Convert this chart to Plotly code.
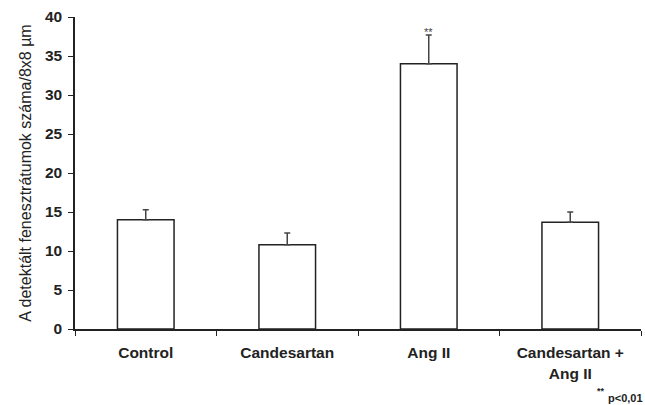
import plotly.graph_objects as go

categories = ["Control", "Candesartan", "Ang II", "Candesartan +<br>Ang II"]
values = [14.0, 10.8, 34.0, 13.7]
errors = [1.3, 1.5, 3.7, 1.3]
sig_labels = ["", "", "**", ""]
y_ticks = [0, 5, 10, 15, 20, 25, 30, 35, 40]

L, R, T, B = 75, 4, 17, 76
W, H = 645, 405
pw, ph = W - L - R, H - T - B

fig = go.Figure()
fig.add_trace(go.Bar(
    x=categories, y=values,
    width=0.4,
    marker=dict(color="white", line=dict(color="#222222", width=1.5)),
    error_y=dict(type="data", array=errors, symmetric=False, arrayminus=[0]*4,
                 color="#444444", thickness=1.5, width=3),
    showlegend=False,
))

for c, v, e, s in zip(categories, values, errors, sig_labels):
    if s:
        fig.add_annotation(x=c, y=v + e, text=s, showarrow=False, yanchor="bottom",
                           yshift=-5, font=dict(family="Liberation Sans", size=11, color="#444444"))

# footnote
fig.add_annotation(xref="paper", yref="paper", x=(601 - L) / pw, y=(H - B - 391) / ph,
                   xanchor="center", yanchor="middle", text="**", showarrow=False,
                   font=dict(family="Liberation Sans", size=9, color="#222222", weight="bold"))
fig.add_annotation(xref="paper", yref="paper", x=(645 - L) / pw, y=(H - B - 398) / ph,
                   xanchor="right", yanchor="middle", text="p<0,01", showarrow=False,
                   font=dict(family="Liberation Sans", size=11, color="#222222", weight="bold"))

fig.update_layout(
    width=W, height=H,
    margin=dict(l=L, r=R, t=T, b=B),
    paper_bgcolor="white", plot_bgcolor="white",
    font=dict(family="Liberation Sans", color="#222222"),
)
fig.update_xaxes(
    type="category", tickson="boundaries", ticks="outside", ticklen=5, tickwidth=1.2,
    tickcolor="#222222", showline=True, linecolor="#222222", linewidth=1.5,
    tickfont=dict(family="Liberation Sans", size=15.5, color="#222222", weight="bold"),
    ticklabelstandoff=9,
    showgrid=False, range=[-0.5, 3.5], automargin=False,
)
fig.update_yaxes(
    range=[0, 40], tickvals=y_ticks, ticks="outside", ticklen=5, tickwidth=1.2,
    tickcolor="#222222", showline=True, linecolor="#222222", linewidth=1.5,
    tickfont=dict(family="Liberation Sans", size=15.5, color="#222222", weight="bold"),
    ticklabelstandoff=3,
    showgrid=False, zeroline=False, automargin=False,
    title=dict(text="A detektált fenesztrátumok száma/8x8 µm",
               font=dict(family="Liberation Sans", size=16, color="#222222"), standoff=9),
)

fig.write_html("out.html", config={"displayModeBar": False},
               post_script="document.body.style.margin='0';document.body.style.overflow='hidden';")
